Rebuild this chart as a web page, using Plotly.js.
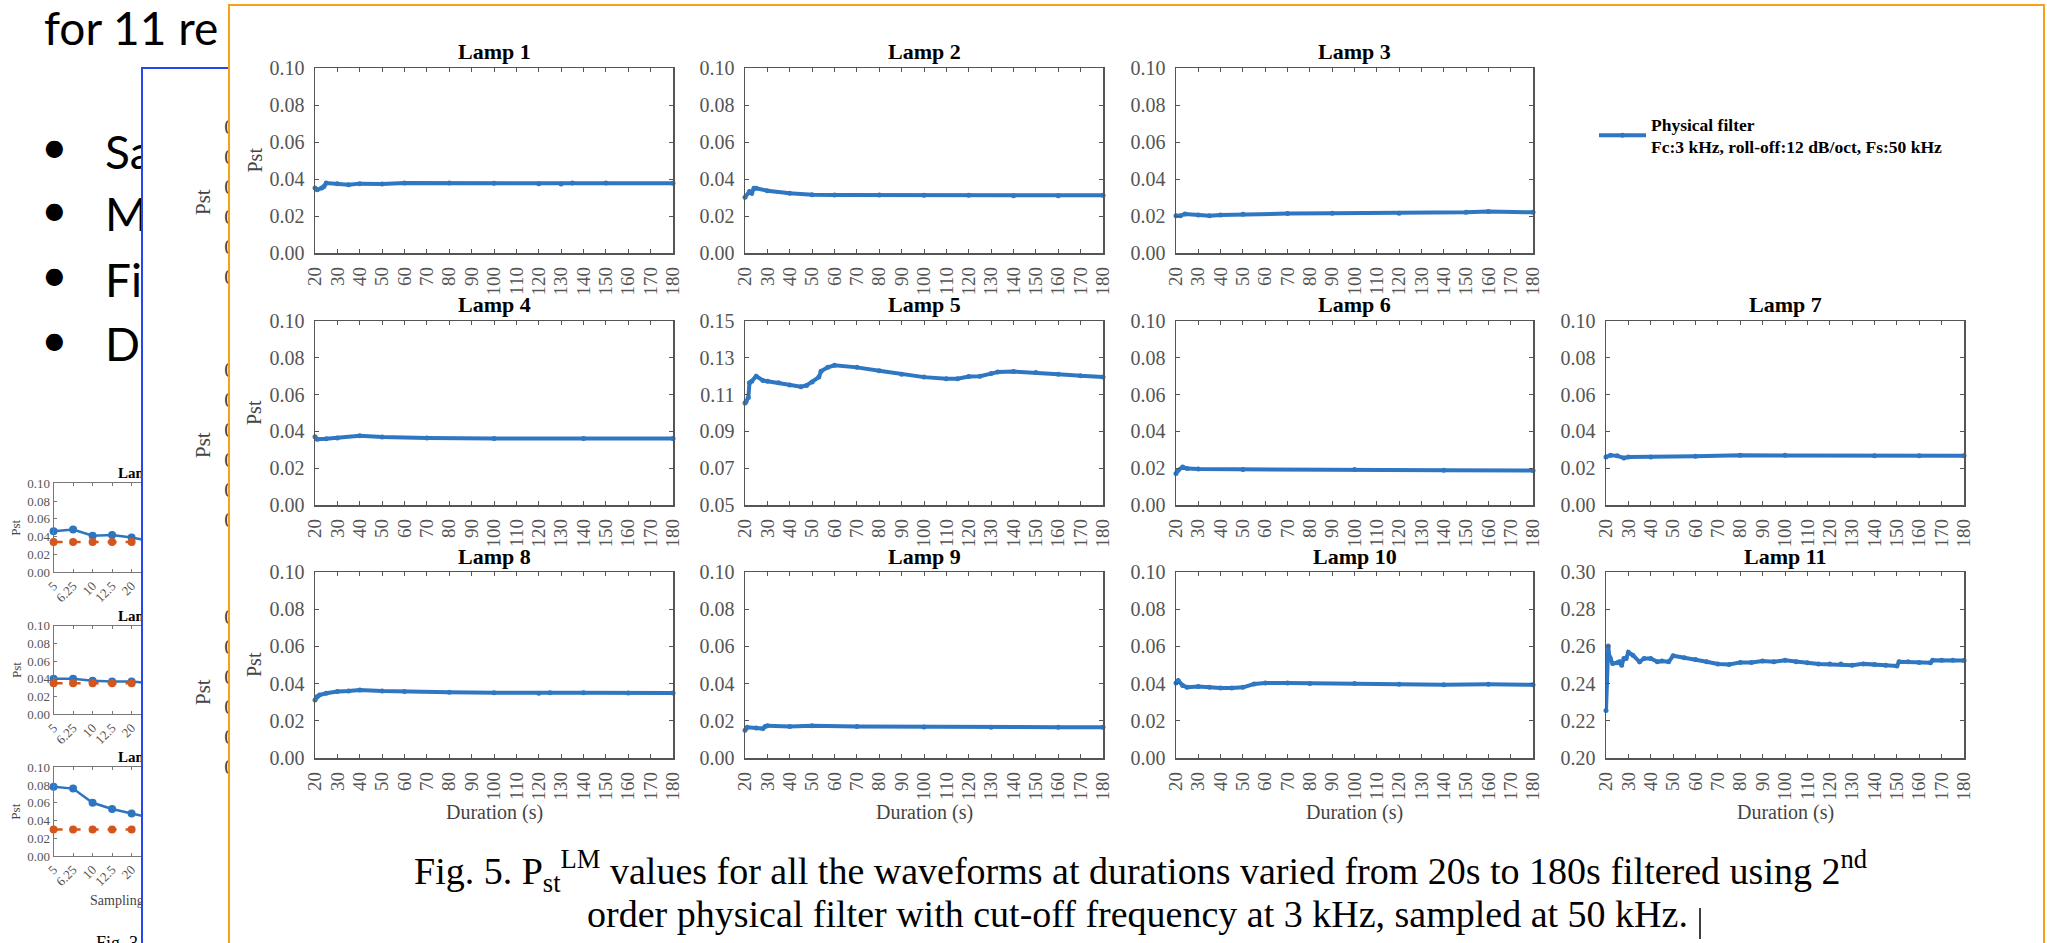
<!DOCTYPE html>
<html><head><meta charset="utf-8">
<script src="https://cdn.plot.ly/plotly-3.0.1.min.js"></script>
<style>
html,body{margin:0;padding:0;overflow:hidden;background:#fff;width:2047px;height:943px;}
.layer{position:absolute;left:0;top:0;width:2047px;height:943px;}
#bluebox{position:absolute;left:141px;top:67px;width:1900px;height:900px;background:#fff;border-left:2px solid #2546f0;border-top:2px solid #2546f0;}
#orangebox{position:absolute;left:228px;top:4px;width:1817px;height:980px;background:#fff;border:2px solid #f7a11a;box-sizing:border-box;}
</style></head>
<body>
<div id="slide" class="layer"></div>
<div id="bluebox"></div>
<div id="mid" class="layer"></div>
<div id="orangebox"></div>
<div id="fig5" class="layer"></div>
<script>
// ---------------- DATA ----------------
// Slide text (partly covered)
const slideHeading = 'for 11 re';
const bulletTexts = ['Sa', 'M', 'Fi', 'D'];

// Fig. 3 (background, partly covered): sampling frequency categories
const fig3Ticks = ['5', '6.25', '10', '12.5', '20'];
const fig3Idx = [0, 1, 2, 3, 4, 5];
const fig3Titles = ['Lamp 1', 'Lamp 4', 'Lamp 8'];
const fig3BlueA = [0.046, 0.048, 0.041, 0.042, 0.039, 0.035];
const fig3OrangeA = [0.034, 0.034, 0.034, 0.034, 0.034, 0.034];
const fig3BlueB = [0.040, 0.040, 0.038, 0.037, 0.037, 0.035];
const fig3OrangeB = [0.035, 0.035, 0.035, 0.035, 0.035, 0.035];
const fig3BlueC = [0.078, 0.076, 0.060, 0.053, 0.048, 0.043];
const fig3OrangeC = [0.030, 0.030, 0.030, 0.030, 0.030, 0.030];

// Fig. 5: Pst vs duration (s) for 11 lamps
const lamp1X = [20,21,23,24,25,30,35,40,50,60,80,100,120,130,135,150,180];
const lamp1Y = [0.0351,0.0342,0.0351,0.036,0.0378,0.0375,0.0369,0.0375,0.0373,0.0378,0.0378,0.0377,0.0375,0.0373,0.0378,0.0378,0.0377];
const lamp2X = [20,22,23,24,25,30,40,50,60,80,100,120,140,160,180];
const lamp2Y = [0.0301,0.0332,0.0323,0.035,0.035,0.0337,0.0323,0.0315,0.0314,0.0314,0.0312,0.0312,0.031,0.031,0.0312];
const lamp3X = [20,22,24,30,35,40,50,70,90,120,150,160,180];
const lamp3Y = [0.0201,0.0201,0.0211,0.0206,0.0201,0.0206,0.021,0.0213,0.0215,0.0215,0.022,0.0224,0.022];
const lamp4X = [20,21,25,30,40,50,70,100,140,180];
const lamp4Y = [0.0371,0.0357,0.036,0.0364,0.0376,0.0369,0.0364,0.0362,0.0362,0.0362];
const lamp5X = [20,20.5,21.5,22,23,25,28,30,35,40,45,47.5,50,53,54,57,60,70,80,90,100,110,115,120,125,130,133,140,150,160,170,180];
const lamp5Y = [0.1054,0.1062,0.1084,0.1164,0.1173,0.120,0.1177,0.1173,0.1164,0.1152,0.1143,0.115,0.1168,0.1195,0.1227,0.1248,0.1259,0.1248,0.123,0.1211,0.1195,0.1186,0.1186,0.1198,0.120,0.1214,0.1223,0.1225,0.122,0.1211,0.1202,0.1196];
const lamp6X = [20,21,23,25,30,50,100,140,180];
const lamp6Y = [0.0171,0.0189,0.0207,0.0198,0.0195,0.0193,0.0193,0.0189,0.0187];
const lamp7X = [20,22,25,28,30,40,60,80,100,140,160,180];
const lamp7Y = [0.0261,0.027,0.0267,0.0256,0.0261,0.0261,0.0265,0.027,0.027,0.0268,0.0267,0.0267];
const lamp8X = [20,21,22,25,30,35,40,50,60,80,100,120,125,140,160,180];
const lamp8Y = [0.0312,0.033,0.0339,0.0348,0.0357,0.036,0.0366,0.036,0.0357,0.0353,0.0351,0.0348,0.0351,0.0351,0.035,0.035];
const lamp9X = [20,21,25,28,29,30,40,50,70,100,130,160,180];
const lamp9Y = [0.0149,0.0165,0.0161,0.0158,0.017,0.0174,0.017,0.0174,0.017,0.0167,0.0165,0.0165,0.0165];
const lamp10X = [20,21,23,25,30,35,40,45,50,55,60,70,80,100,120,140,160,180];
const lamp10Y = [0.0403,0.0416,0.039,0.038,0.0385,0.038,0.0376,0.0376,0.038,0.0398,0.0403,0.0403,0.0401,0.04,0.0396,0.0394,0.0396,0.0394];
const lamp11X = [20,21,21.5,22,23,25,26,27,28,29,30,32,35,37,40,43,45,48,50,55,60,65,70,75,80,85,90,95,100,105,110,115,120,125,130,135,140,145,150,151,155,160,165,166,170,175,180];
const lamp11Y = [0.2256,0.2602,0.2544,0.2535,0.2508,0.2512,0.2517,0.2499,0.2535,0.2535,0.2568,0.2553,0.2517,0.2535,0.2535,0.2517,0.2521,0.2517,0.255,0.2539,0.253,0.2517,0.2505,0.2503,0.2514,0.2514,0.2521,0.2517,0.2526,0.2517,0.2512,0.2506,0.2505,0.2505,0.2499,0.2506,0.2503,0.2499,0.2495,0.2517,0.2517,0.2514,0.2512,0.2526,0.2526,0.2526,0.2524];
const lampNames = ['Lamp 1','Lamp 2','Lamp 3','Lamp 4','Lamp 5','Lamp 6','Lamp 7','Lamp 8','Lamp 9','Lamp 10','Lamp 11'];
const lampYRange = [[0,0.1],[0,0.1],[0,0.1],[0,0.1],[0.05,0.15],[0,0.1],[0,0.1],[0,0.1],[0,0.1],[0,0.1],[0.2,0.3]];
const legendName = '<b>Physical filter</b><br><b>Fc:3 kHz, roll-off:12 dB/oct, Fs:50 kHz</b>';
const xTitle = 'Duration (s)';
const yTitle = 'Pst';
const captionLine1 = 'Fig. 5. P<sub>st</sub><sup>LM</sup> values for all the waveforms at durations varied from 20s to 180s filtered using 2<sup>nd</sup>';
const captionLine2 = 'order physical filter with cut-off frequency at 3 kHz, sampled at 50 kHz.';

// ---------------- HELPERS ----------------
const W = 2047, H = 943;
const px = x => x / W;
const py = y => 1 - y / H;
const SERIF = 'Liberation Serif, Times New Roman, serif';
const SANS = 'Lato, Liberation Sans, sans-serif';
const cfg = {staticPlot: true, displayModeBar: false};
const axKey = (l, i) => l + 'axis' + (i === 0 ? '' : (i + 1));
const axRef = (l, i) => l + (i === 0 ? '' : (i + 1));
// annotation in page pixels
function ann(text, x, y, font, opts) {
  return Object.assign({text: text, x: px(x), y: py(y), xref: 'paper', yref: 'paper', showarrow: false,
    xanchor: 'center', yanchor: 'middle', font: font}, opts || {});
}

// ---------------- LAYER 1: slide + Fig. 3 ----------------
(function () {
  const blue = '#2e75c0', orange = '#d4561c';
  const rowsPx = [[483.3, 572.3], [625.7, 714.3], [767.3, 856]];
  const blues = [fig3BlueA, fig3BlueB, fig3BlueC];
  const oranges = [fig3OrangeA, fig3OrangeB, fig3OrangeC];
  const traces = [];
  const layout = {
    width: W, height: H, margin: {l: 0, r: 0, t: 0, b: 0},
    paper_bgcolor: '#fff', plot_bgcolor: 'rgba(0,0,0,0)', showlegend: false,
    annotations: []
  };
  rowsPx.forEach((r, i) => {
    traces.push({x: fig3Idx, y: blues[i], xaxis: axRef('x', i), yaxis: axRef('y', i), mode: 'lines+markers',
      line: {color: blue, width: 2.5}, marker: {size: 8, color: blue}, cliponaxis: false});
    traces.push({x: fig3Idx, y: oranges[i], xaxis: axRef('x', i), yaxis: axRef('y', i), mode: 'lines+markers',
      line: {color: orange, width: 2.5, dash: 'dash'}, marker: {size: 8, color: orange}, cliponaxis: false});
    layout[axKey('x', i)] = {domain: [px(53.6), px(230)], range: [0, (230 - 53.6) / 19.5], anchor: axRef('y', i),
      tickvals: [0, 1, 2, 3, 4], ticktext: fig3Ticks, tickangle: -45,
      tickfont: {family: SERIF, size: 13, color: '#555'}, showline: true, linecolor: '#777', linewidth: 1,
      mirror: 'ticks', ticks: 'inside', ticklen: 3, tickcolor: '#777', showgrid: false, zeroline: false};
    layout[axKey('y', i)] = {domain: [py(r[1]), py(r[0])], range: [0, 0.1], dtick: 0.02, tickformat: '.2f',
      anchor: axRef('x', i), tickfont: {family: SERIF, size: 13, color: '#555'}, showline: true, linecolor: '#777',
      linewidth: 1, mirror: 'ticks', ticks: 'inside', ticklen: 3, tickcolor: '#777', showgrid: false, zeroline: false};
    layout.annotations.push(ann(yTitle, 16, (r[0] + r[1]) / 2, {family: SERIF, size: 13, color: '#444'}, {textangle: -90}));
    layout.annotations.push(ann('<b>' + fig3Titles[i] + '</b>', 143, r[0] - 10, {family: SERIF, size: 15, color: '#000'}));
  });
  layout.annotations.push(ann('Sampling', 88, 900, {family: SERIF, size: 14, color: '#444'}, {xanchor: 'left'}));
  layout.annotations.push(ann('Fig. 3', 94, 931, {family: SERIF, size: 18, color: '#000'}, {xanchor: 'left', yanchor: 'top'}));
  layout.annotations.push(ann(slideHeading, 42, 27, {family: SANS, size: 46, color: '#000'}, {xanchor: 'left'}));
  const bulletY = [151, 214, 279, 343];
  bulletTexts.forEach((t, i) => {
    layout.annotations.push(ann('•', 54, bulletY[i] - 5, {family: SANS, size: 46, color: '#000'}));
    layout.annotations.push(ann(t, 103, bulletY[i], {family: SANS, size: 46, color: '#000'}, {xanchor: 'left'}));
  });
  Plotly.newPlot('slide', traces, layout, cfg);
})();

// ---------------- LAYER 2: content of the blue box (mostly covered) ----------------
(function () {
  const rowsPx = [[127, 277], [370, 520], [617, 767]];
  const traces = [];
  const layout = {
    width: W, height: H, margin: {l: 0, r: 0, t: 0, b: 0},
    paper_bgcolor: 'rgba(0,0,0,0)', plot_bgcolor: 'rgba(0,0,0,0)', showlegend: false, annotations: []
  };
  rowsPx.forEach((r, i) => {
    traces.push({x: [], y: [], xaxis: axRef('x', i), yaxis: axRef('y', i), mode: 'lines'});
    layout[axKey('x', i)] = {domain: [px(262), px(600)], range: [0, 1], visible: false, anchor: axRef('y', i)};
    layout[axKey('y', i)] = {domain: [py(r[1]), py(r[0])], range: [0, 0.1], dtick: 0.02, tickformat: '.2f',
      anchor: axRef('x', i), tickfont: {family: SERIF, size: 21, color: '#444'}, showline: false, ticks: '',
      showgrid: false, zeroline: false};
    layout.annotations.push(ann(yTitle, 203, (r[0] + r[1]) / 2, {family: SERIF, size: 21, color: '#444'}, {textangle: -90}));
  });
  Plotly.newPlot('mid', traces, layout, cfg);
})();

// ---------------- LAYER 3: Fig. 5 ----------------
(function () {
  const colsPx = [[315, 673], [745, 1103], [1176, 1533], [1606, 1964]];
  const rowsPx = [[68, 253], [321, 505], [572, 758]];
  const cells = [[0,0],[0,1],[0,2],[1,0],[1,1],[1,2],[1,3],[2,0],[2,1],[2,2],[2,3]];
  const lampX = [lamp1X, lamp2X, lamp3X, lamp4X, lamp5X, lamp6X, lamp7X, lamp8X, lamp9X, lamp10X, lamp11X];
  const lampY = [lamp1Y, lamp2Y, lamp3Y, lamp4Y, lamp5Y, lamp6Y, lamp7Y, lamp8Y, lamp9Y, lamp10Y, lamp11Y];
  const col = '#2f77c2', frame = '#555';
  const traces = [];
  const layout = {
    width: W, height: H, margin: {l: 0, r: 0, t: 0, b: 0},
    paper_bgcolor: 'rgba(0,0,0,0)', plot_bgcolor: 'rgba(0,0,0,0)', showlegend: true,
    legend: {x: px(1594), y: py(106), xanchor: 'left', yanchor: 'top', bgcolor: 'rgba(0,0,0,0)', borderwidth: 0,
      itemwidth: 47, font: {family: SERIF, size: 17.5, color: '#000'}},
    annotations: [], shapes: []
  };
  lampX.forEach((xs, i) => {
    const [r, c] = cells[i];
    const cx = colsPx[c], ry = rowsPx[r];
    traces.push({x: xs, y: lampY[i], xaxis: axRef('x', i), yaxis: axRef('y', i), type: 'scatter', mode: 'lines+markers',
      name: legendName, showlegend: i === 0, line: {color: col, width: 4}, marker: {size: 5, color: col}, cliponaxis: false});
    layout[axKey('x', i)] = {domain: [px(cx[0]), px(cx[1])], range: [20, 180], tick0: 20, dtick: 10, tickangle: -90,
      anchor: axRef('y', i), tickfont: {family: SERIF, size: 19, color: '#555'}, ticklabelstandoff: 5,
      showline: true, linecolor: frame, linewidth: 1.5, mirror: 'ticks', ticks: 'inside', ticklen: 4, tickcolor: frame,
      showgrid: false, zeroline: false};
    const yr = lampYRange[i];
    layout[axKey('y', i)] = {domain: [py(ry[1]), py(ry[0])], range: yr, tick0: yr[0], dtick: 0.02, tickformat: '.2f',
      anchor: axRef('x', i), tickfont: {family: SERIF, size: 20, color: '#555'}, ticklabelstandoff: 5,
      showline: true, linecolor: frame, linewidth: 1.5, mirror: 'ticks', ticks: 'inside', ticklen: 4, tickcolor: frame,
      showgrid: false, zeroline: false};
    layout.annotations.push(ann('<b>' + lampNames[i] + '</b>', (cx[0] + cx[1]) / 2, ry[0] - 16,
      {family: SERIF, size: 22, color: '#000'}));
    if (c === 0) {
      layout.annotations.push(ann(yTitle, 254, (ry[0] + ry[1]) / 2, {family: SERIF, size: 20, color: '#444'}, {textangle: -90}));
    }
    if (r === 2) {
      layout.annotations.push(ann(xTitle, (cx[0] + cx[1]) / 2, 812, {family: SERIF, size: 20, color: '#444'}));
    }
  });
  layout.annotations.push(ann(captionLine1, 1140, 871, {family: SERIF, size: 38, color: '#000'}));
  layout.annotations.push(ann(captionLine2, 1137, 914, {family: SERIF, size: 38, color: '#000'}));
  // text cursor after the caption
  layout.shapes.push({type: 'line', xref: 'paper', yref: 'paper', x0: px(1700), x1: px(1700), y0: py(939), y1: py(908),
    line: {color: '#000', width: 1.5}});
  Plotly.newPlot('fig5', traces, layout, cfg);
})();
</script>
</body></html>
